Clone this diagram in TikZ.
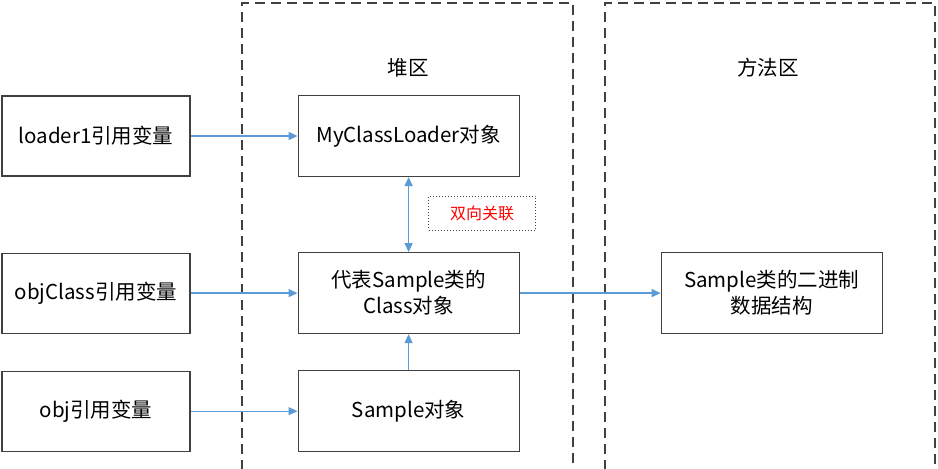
\documentclass[tikz,border=0pt]{standalone}
\usepackage{fontspec}
\setmainfont{Noto Sans CJK SC}
\usetikzlibrary{arrows.meta, positioning}

\definecolor{linkblue}{HTML}{5B9BD5}
\definecolor{boxgray}{HTML}{404040}

\begin{document}
\begin{tikzpicture}[
    x=1pt, y=-1pt,
    varbox/.style={rectangle, draw=boxgray, line width=1.1pt, minimum width=188pt, minimum height=80pt, align=center, font=\fontsize{20.5}{26}\selectfont},
    objbox/.style={rectangle, draw=boxgray, line width=1.1pt, minimum width=221pt, minimum height=81pt, align=center, font=\fontsize{20.5}{26}\selectfont},
    title/.style={font=\fontsize{20.5}{26}\selectfont},
    note/.style={rectangle, draw=boxgray, dotted, line width=1pt, minimum width=107pt, minimum height=34pt, text=red, font=\fontsize{16}{19}\selectfont},
    area/.style={draw=boxgray, dash pattern=on 10pt off 6pt, line width=1.8pt},
    arrow/.style={-{Triangle[length=9pt, width=8pt]}, linkblue, line width=1.3pt},
    node distance=76pt and 107pt
]
    \useasboundingbox (0,0) rectangle (938,469);

    % Areas
    \draw[area] (242,470) -- (242,3) -- (573,3) -- (573,470);
    \draw[area] (605,470) -- (605,3) -- (935,3) -- (935,470);
    \node[title] (heap) at (408,68) {堆区};
    \node[title] (method) at (768,68) {方法区};

    % Nodes
    \node[varbox] (loader) at (96,136) {loader1引用变量};
    \node[objbox, right=of loader] (loaderobj) {MyClassLoader对象};
    \node[varbox, below=of loader] (objclass) {objClass引用变量};
    \node[objbox, right=of objclass] (classobj) {代表Sample类的\\Class对象};
    \node[varbox, below=37pt of objclass] (obj) {obj引用变量};
    \node[objbox, right=of obj] (sampleobj) {Sample对象};
    \node[objbox, right=141pt of classobj] (binary) {Sample类的二进制\\数据结构};
    \node[note] (link) at (482,213) {双向关联};

    % Arrows
    \draw[arrow] (loader) -- (loaderobj);
    \draw[arrow] (objclass) -- (classobj);
    \draw[arrow] (obj) -- (sampleobj);
    \draw[arrow, {Triangle[length=9pt, width=8pt]}-{Triangle[length=9pt, width=8pt]}] (loaderobj) -- (classobj);
    \draw[arrow] (sampleobj) -- (classobj);
    \draw[arrow] (classobj) -- (binary);
\end{tikzpicture}
\end{document}
